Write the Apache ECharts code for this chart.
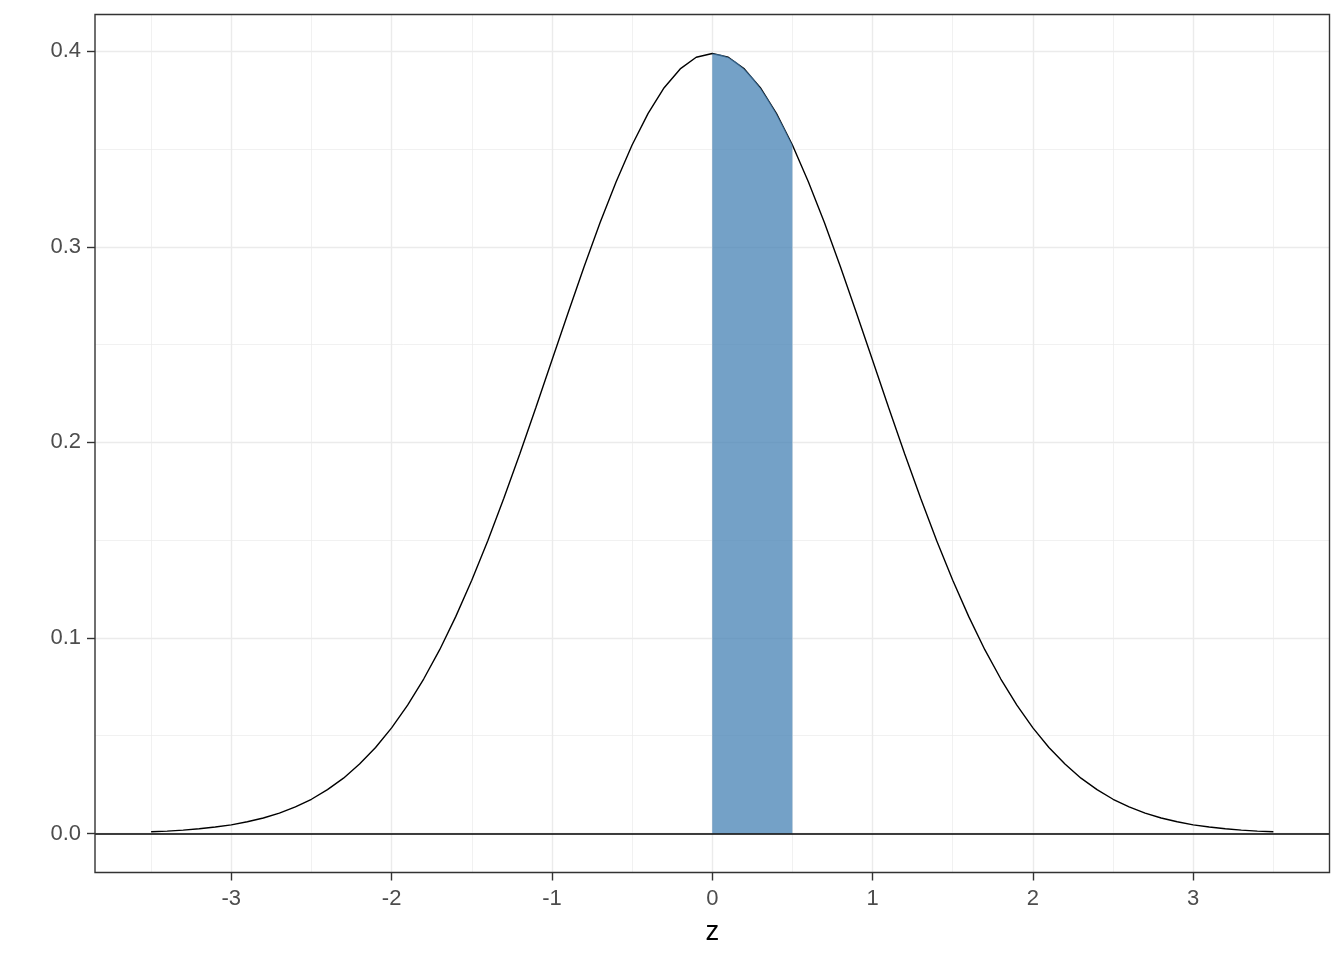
<!DOCTYPE html>
<html>
<head>
<meta charset="utf-8">
<script src="https://cdn.jsdelivr.net/npm/echarts@6/dist/echarts.min.js"></script>
<style>
html,body{margin:0;padding:0;background:#fff;}
#chart{width:1344px;height:960px;}
</style>
</head>
<body>
<div id="chart"></div>
<script>
// z values of the density curve
const zValues = [-3.5,-3.4,-3.3,-3.2,-3.1,-3.0,-2.9,-2.8,-2.7,-2.6,-2.5,-2.4,-2.3,-2.2,-2.1,-2.0,-1.9,-1.8,-1.7,-1.6,-1.5,-1.4,-1.3,-1.2,-1.1,-1.0,-0.9,-0.8,-0.7,-0.6,-0.5,-0.4,-0.3,-0.2,-0.1,0.0,0.1,0.2,0.3,0.4,0.5,0.6,0.7,0.8,0.9,1.0,1.1,1.2,1.3,1.4,1.5,1.6,1.7,1.8,1.9,2.0,2.1,2.2,2.3,2.4,2.5,2.6,2.7,2.8,2.9,3.0,3.1,3.2,3.3,3.4,3.5];
const densityValues = [0.0009,0.0012,0.0017,0.0024,0.0033,0.0044,0.0060,0.0079,0.0104,0.0136,0.0175,0.0224,0.0283,0.0355,0.0440,0.0540,0.0656,0.0790,0.0940,0.1109,0.1295,0.1497,0.1714,0.1942,0.2179,0.2420,0.2661,0.2897,0.3123,0.3332,0.3521,0.3683,0.3814,0.3910,0.3970,0.3989,0.3970,0.3910,0.3814,0.3683,0.3521,0.3332,0.3123,0.2897,0.2661,0.2420,0.2179,0.1942,0.1714,0.1497,0.1295,0.1109,0.0940,0.0790,0.0656,0.0540,0.0440,0.0355,0.0283,0.0224,0.0175,0.0136,0.0104,0.0079,0.0060,0.0044,0.0033,0.0024,0.0017,0.0012,0.0009];
// shaded region 0 <= z <= 0.5
const shadeZ = [0.0,0.05,0.1,0.15,0.2,0.25,0.3,0.35,0.4,0.45,0.5];
const shadeDensity = [0.3989,0.3984,0.3970,0.3945,0.3910,0.3867,0.3814,0.3752,0.3683,0.3605,0.3521];
// axis ticks
const xTicks = [-3,-2,-1,0,1,2,3];
const xMinorTicks = [-3.5,-2.5,-1.5,-0.5,0.5,1.5,2.5,3.5];
const yTicks = [0,0.1,0.2,0.3,0.4];
const yMinorTicks = [0.05,0.15,0.25,0.35];
const xTitle = 'z';

const xMin = -3.85, xMax = 3.85;
const yMin = -0.01995, yMax = 0.41884;

const curveData = zValues.map((z,i)=>[z,densityValues[i]]);
const shadeData = shadeZ.map((z,i)=>[z,shadeDensity[i]]);

const font = '"Liberation Sans", Arial, sans-serif';
const chart = echarts.init(document.getElementById('chart'), null, {renderer:'canvas'});

const tickStyle = {show:true,length:8,lineStyle:{color:'#333333',width:1.4}};
const labelStyle = {show:true,color:'#4D4D4D',fontSize:22,fontFamily:font};
const majorSplit = {show:true,lineStyle:{color:'#EBEBEB',width:1.4}};
const minorSplit = {show:true,lineStyle:{color:'#EBEBEB',width:0.7}};

chart.setOption({
  animation:false,
  backgroundColor:'#ffffff',
  grid:{left:95,right:14.5,top:14.5,bottom:87.5,show:true,borderColor:'#333333',borderWidth:1.4,backgroundColor:'transparent',z:10},
  xAxis:[
    {
      type:'value',min:xMin,max:xMax,position:'bottom',
      axisLine:{show:false,onZero:false},
      name:xTitle,nameLocation:'middle',nameGap:46,
      nameTextStyle:{color:'#000000',fontSize:27.5,fontFamily:font},
      axisTick:Object.assign({},tickStyle,{customValues:xTicks}),
      axisLabel:Object.assign({},labelStyle,{margin:15,customValues:xTicks,formatter:v=>String(v)}),
      splitLine:majorSplit
    },
    {
      type:'value',min:xMin,max:xMax,position:'bottom',
      axisLine:{show:false,onZero:false},
      axisTick:{show:false,customValues:xMinorTicks},
      axisLabel:{show:false,customValues:xMinorTicks},
      splitLine:minorSplit
    }
  ],
  yAxis:[
    {
      type:'value',min:yMin,max:yMax,position:'left',
      axisLine:{show:false,onZero:false},
      axisTick:Object.assign({},tickStyle,{customValues:yTicks}),
      axisLabel:Object.assign({},labelStyle,{margin:14,customValues:yTicks,formatter:v=>v.toFixed(1)}),
      splitLine:majorSplit
    },
    {
      type:'value',min:yMin,max:yMax,position:'left',
      axisLine:{show:false,onZero:false},
      axisTick:{show:false,customValues:yMinorTicks},
      axisLabel:{show:false,customValues:yMinorTicks},
      splitLine:minorSplit
    }
  ],
  series:[
    {
      type:'line',xAxisIndex:0,yAxisIndex:0,data:curveData,
      showSymbol:false,symbol:'none',smooth:false,
      lineStyle:{color:'#000000',width:1.4},
      z:3,
      markLine:{
        silent:true,symbol:'none',label:{show:false},
        lineStyle:{color:'#000000',width:1.6,type:'solid'},
        data:[{yAxis:0}]
      }
    },
    {
      type:'line',xAxisIndex:0,yAxisIndex:0,data:shadeData,
      showSymbol:false,symbol:'none',
      lineStyle:{width:0},
      areaStyle:{color:'#4682B4',opacity:0.75},
      z:4
    }
  ]
});
</script>
</body>
</html>
